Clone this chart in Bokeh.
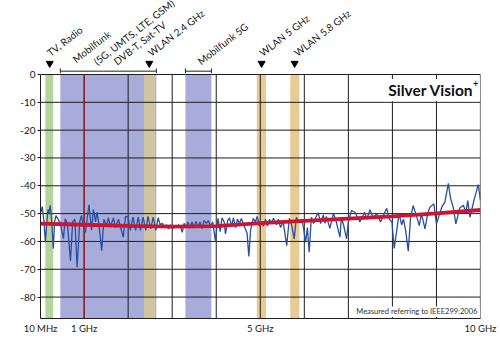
import numpy as np
from bokeh.plotting import figure
from bokeh.models import Range1d, FixedTicker, Label
from bokeh.core.properties import value
from bokeh.embed import file_html
from bokeh.resources import INLINE

# ---------------- data ----------------
freq_ghz = [0.02, 0.05, 0.09, 0.12, 0.16, 0.18, 0.20, 0.23, 0.26, 0.30,
            0.33, 0.36, 0.41, 0.46, 0.53, 0.57, 0.62, 0.69, 0.74, 0.79,
            0.84, 0.90, 0.94, 0.99, 1.03, 1.11, 1.17, 1.21, 1.26, 1.29,
            1.33, 1.40, 1.45, 1.51, 1.55, 1.60, 1.67, 1.71, 1.78, 1.83,
            1.89, 1.94, 2.00, 2.05, 2.11, 2.17, 2.23, 2.28, 2.34, 2.40,
            2.45, 2.51, 2.57, 2.63, 2.68, 2.73, 2.78, 2.83, 2.87, 2.92,
            2.96, 3.01, 3.05, 3.10, 3.14, 3.19, 3.23, 3.27, 3.31, 3.36,
            3.40, 3.45, 3.49, 3.54, 3.59, 3.63, 3.68, 3.72, 3.78, 3.82,
            3.87, 3.92, 3.98, 4.04, 4.09, 4.13, 4.18, 4.21, 4.26, 4.30,
            4.35, 4.39, 4.44, 4.48, 4.53, 4.57, 4.62, 4.70, 4.74, 4.78,
            4.84, 4.89, 4.93, 4.98, 5.03, 5.07, 5.12, 5.16, 5.21, 5.25,
            5.30, 5.37, 5.41, 5.46, 5.52, 5.60, 5.66, 5.71, 5.77, 5.82,
            5.87, 5.94, 5.98, 6.03, 6.07, 6.11, 6.16, 6.21, 6.27, 6.32,
            6.37, 6.43, 6.47, 6.50, 6.58, 6.66, 6.71, 6.81, 6.84, 6.89,
            6.96, 7.00, 7.07, 7.15, 7.26, 7.37, 7.42, 7.49, 7.56, 7.64,
            7.73, 7.80, 7.87, 7.93, 7.99, 8.04, 8.09, 8.15, 8.21, 8.25,
            8.30, 8.36, 8.41, 8.47, 8.55, 8.61, 8.66, 8.74, 8.80, 8.85,
            8.94, 9.00, 9.12, 9.19, 9.27, 9.32, 9.38, 9.44, 9.53, 9.61,
            9.67, 9.71, 9.76, 9.85, 9.89, 9.95, 10.0]
level_dbm = [-49.5, -47.5, -53.0, -60.3, -52.0, -48.5, -50.0, -47.0, -52.0, -62.5,
             -53.0, -50.7, -52.0, -53.6, -59.0, -51.9, -53.5, -67.0, -53.0, -52.0,
             -69.3, -53.0, -50.7, -55.0, -56.7, -46.8, -56.0, -48.5, -53.0, -49.5,
             -53.0, -63.3, -52.0, -54.5, -51.5, -54.5, -51.5, -55.0, -52.0, -55.0,
             -58.5, -51.0, -51.3, -56.0, -51.3, -56.0, -51.3, -56.0, -51.3, -56.0,
             -51.0, -55.5, -51.3, -56.0, -51.5, -54.0, -53.5, -55.0, -54.0, -55.5,
             -54.0, -55.5, -54.5, -55.0, -54.0, -55.0, -56.7, -53.5, -55.0, -53.0,
             -55.2, -53.0, -55.0, -52.8, -55.0, -53.0, -55.4, -52.5, -53.5, -52.5,
             -54.5, -53.0, -59.7, -51.7, -56.5, -51.5, -53.0, -57.3, -52.5, -51.5,
             -54.5, -51.5, -55.0, -52.0, -53.5, -51.7, -54.0, -57.0, -65.4, -56.0,
             -51.7, -53.0, -51.0, -54.5, -53.0, -54.5, -52.0, -54.5, -52.0, -53.5,
             -51.7, -54.0, -52.0, -55.0, -53.0, -61.5, -51.7, -54.0, -59.1, -51.3,
             -53.0, -52.0, -55.0, -60.3, -55.0, -63.9, -51.3, -53.6, -51.0, -49.7,
             -53.6, -50.5, -53.5, -51.0, -55.3, -50.0, -52.0, -58.5, -51.5, -54.0,
             -59.1, -53.0, -48.9, -49.5, -53.0, -49.5, -52.0, -48.6, -51.5, -50.0,
             -53.0, -50.5, -48.1, -52.0, -53.0, -62.5, -57.0, -50.0, -54.0, -52.0,
             -56.0, -63.5, -52.0, -47.1, -51.0, -54.3, -50.0, -55.5, -50.0, -47.7,
             -46.5, -53.7, -47.7, -45.9, -39.1, -44.5, -47.7, -53.7, -48.0, -47.0,
             -49.5, -45.3, -51.3, -45.3, -43.0, -39.6, -45.3]

trend_ghz = [0.01, 1, 2, 3, 4, 5, 6, 7, 8, 9, 10]
trend_dbm = [-53.6, -54.0, -54.4, -54.7, -54.5, -53.4, -52.6, -51.8, -51.0, -49.9, -48.7]

x_tick_values = [0.01, 1, 5, 10]
x_tick_labels = ["10 MHz", "1 GHz", "5 GHz", "10 GHz"]
y_tick_values = [0, -10, -20, -30, -40, -50, -60, -70, -80]
grid_x_ghz = [2, 3, 4, 5, 6, 7, 8, 9]

band_names = ["TV, Radio", "Mobilfunk", "Mobilfunk 5G", "WLAN 2.4 GHz", "WLAN 5 GHz", "WLAN 5.8 GHz"]
band_start = [0.12, 0.46, 3.30, 2.36, 4.92, 5.68]
band_end = [0.30, 2.64, 3.89, 2.62, 5.13, 5.89]

bracket_start = [0.46, 3.30]
bracket_end = [2.64, 3.89]
marker_ghz = [0.22, 2.48, 5.03, 5.78]

label_texts = ["TV, Radio", "Mobilfunk", "(5G, UMTS, LTE, GSM)", "DVB-T, Sat-TV",
               "WLAN 2.4 GHz", "Mobilfunk 5G", "WLAN 5 GHz", "WLAN 5.8 GHz"]

# ---------------- layout / style ----------------
band_colors = ["#b5d49c", "#a7acda", "#a7acda", "#cfc5a2", "#e9cb95", "#e9cb95"]
label_pos = [(0.27, 5.7), (0.85, 3.4), (1.33, 2.6), (1.78, 2.6),
             (2.56, 5.7), (3.69, 2.7), (5.09, 5.7), (5.88, 5.7)]
Y_BOTTOM = -87.7
Y_TOP = 26.6
FONT = "Lato"

p = figure(width=500, height=343, output_backend="svg", toolbar_location=None,
           x_range=Range1d(0.01, 10), y_range=Range1d(Y_BOTTOM, Y_TOP),
           min_border_left=40, min_border_right=20, min_border_top=0,
           min_border_bottom=25, background_fill_color="white",
           border_fill_color="white")
p.outline_line_color = None
p.grid.visible = False

# bands
p.quad(left=band_start, right=band_end, bottom=Y_BOTTOM, top=0,
       fill_color=band_colors, line_color=None)

# grid
p.segment(x0=grid_x_ghz, x1=grid_x_ghz, y0=Y_BOTTOM, y1=0, line_color="#1e1e1e", line_width=1)
p.segment(x0=[10], x1=[10], y0=Y_BOTTOM, y1=0, line_color="#1e1e1e", line_width=1.2)
hy = y_tick_values[1:]
p.segment(x0=0.01, x1=10, y0=hy, y1=hy, line_color="#1e1e1e", line_width=1)
p.segment(x0=[0.01], x1=[10], y0=[0], y1=[0], line_color="#1e1e1e", line_width=1.2)
p.segment(x0=[1], x1=[1], y0=Y_BOTTOM, y1=0, line_color="#8e1a1f", line_width=1.6)

# brackets and markers above frame
p.segment(x0=bracket_start, x1=bracket_end, y0=1.2, y1=1.2, line_color="#222", line_width=1)
p.segment(x0=bracket_start + bracket_end, x1=bracket_start + bracket_end,
          y0=0.5, y1=2.2, line_color="#222", line_width=1)
p.scatter(marker_ghz, [4.0] * len(marker_ghz), marker="inverted_triangle", size=7,
          fill_color="black", line_color="black")

for t, (lx, ly) in zip(label_texts, label_pos):
    p.add_layout(Label(x=lx, y=ly, text=t, angle=np.deg2rad(38), text_align="left",
                       text_baseline="bottom", text_font=FONT, text_font_size="10px",
                       text_color="#1a1a1a"))

# white boxes for texts
p.quad(left=[7.80, 7.16], right=[9.985, 9.985], bottom=[-9.6, -87.2], top=[-1.6, -83.4],
       fill_color="white", line_color=None)

# series
p.line(freq_ghz, level_dbm, line_color="#2650a0", line_width=1.3)
p.line(trend_ghz, trend_dbm, line_color="#cc1530", line_width=3.8)

p.add_layout(Label(x=9.84, y=-5.6, text="Silver Vision", text_align="right",
                   text_baseline="middle", text_font=FONT, text_font_size="15.5px",
                   text_font_style="bold", text_color="#111"))
p.add_layout(Label(x=9.95, y=-3.2, text="+", text_align="right",
                   text_baseline="middle", text_font=FONT, text_font_size="8.5px",
                   text_font_style="bold", text_color="#111"))
p.add_layout(Label(x=9.93, y=-85.3, text="Measured referring to IEEE299:2006", text_align="right",
                   text_baseline="middle", text_font=FONT, text_font_size="7.5px",
                   text_color="#333"))
p.add_layout(Label(x=0.01, y=-85.6, x_offset=-5, text="dBm", text_align="right",
                   text_baseline="middle", text_font=FONT, text_font_size="10px",
                   text_color="#222"))

# axes
xa = p.xaxis[0]
xa.ticker = FixedTicker(ticks=x_tick_values)
xa.major_label_overrides = {v: s for v, s in zip(x_tick_values, x_tick_labels)}
xa.major_tick_in = 0
xa.major_tick_out = 0
xa.minor_tick_out = 0
xa.minor_tick_in = 0
xa.axis_line_color = "#1e1e1e"
xa.major_label_text_font = FONT
xa.major_label_text_font_size = "9.5px"
xa.major_label_text_color = "#1a1a1a"
xa.major_label_standoff = 4

ya = p.yaxis[0]
ya.ticker = FixedTicker(ticks=y_tick_values)
ya.major_label_overrides = {v: str(v) for v in y_tick_values}
ya.bounds = (Y_BOTTOM, 0)
ya.major_tick_in = 0
ya.major_tick_out = 3
ya.minor_tick_out = 0
ya.minor_tick_in = 0
ya.axis_line_color = "#1e1e1e"
ya.major_tick_line_color = "#1e1e1e"
ya.major_label_text_font = FONT
ya.major_label_text_font_size = "10px"
ya.major_label_text_color = "#1a1a1a"
ya.major_label_standoff = 2

open("out.html", "w").write(file_html(p, INLINE))
